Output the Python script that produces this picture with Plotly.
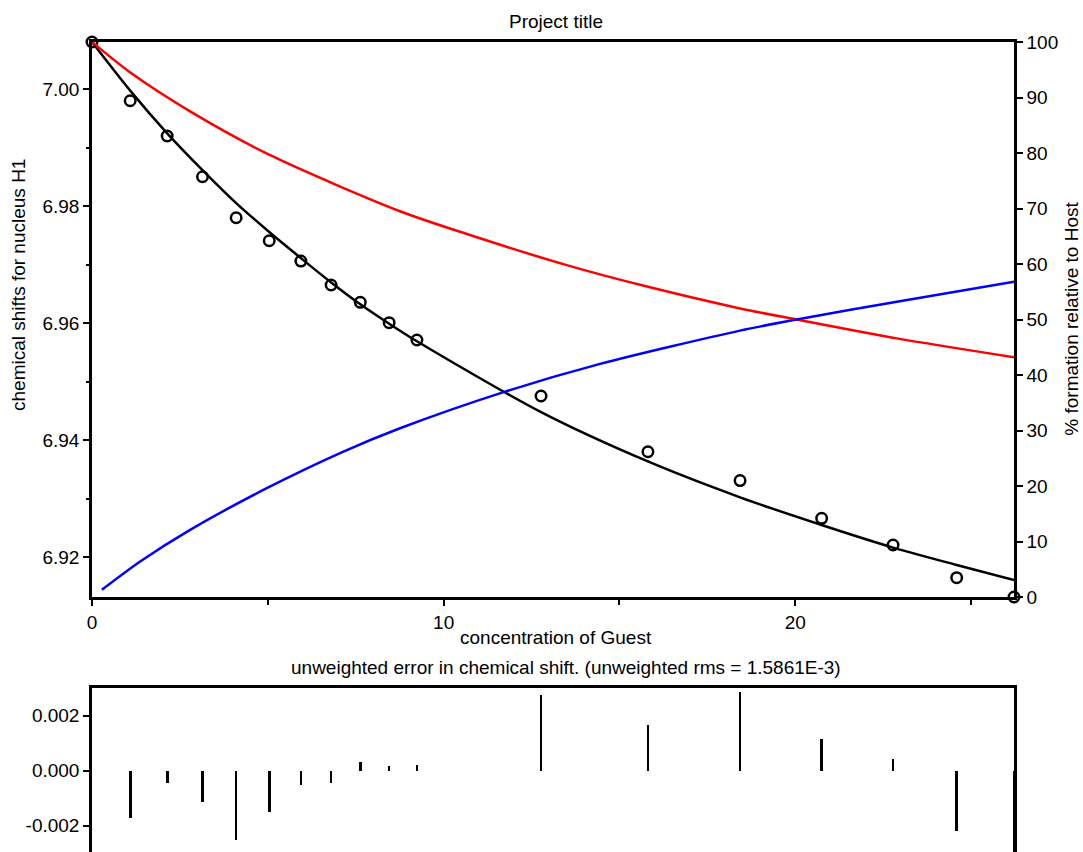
import plotly.graph_objects as go

# ---- data ----
conc_guest = [0, 1.086, 2.138, 3.142, 4.10, 5.04, 5.94, 6.80, 7.63, 8.45, 9.24,
              12.77, 15.81, 18.43, 20.75, 22.78, 24.59, 26.22]
shift_obs = [7.00807, 6.99803, 6.99200, 6.98504, 6.97803, 6.97410, 6.97063, 6.96653,
             6.96357, 6.96009, 6.95713, 6.94756, 6.93803, 6.93311, 6.92665, 6.92209,
             6.91650, 6.91320]
shift_fit = [7.00807, 6.99976, 6.99246, 6.98617, 6.98053, 6.97559, 6.97113, 6.96697,
             6.96324, 6.95992, 6.95692, 6.94481, 6.93637, 6.93024, 6.92551, 6.92165,
             6.91868, 6.91610]
residual = [0, -0.00173, -0.00046, -0.00113, -0.0025, -0.00149, -0.0005, -0.00044,
            0.00033, 0.00017, 0.00021, 0.00275, 0.00166, 0.00287, 0.00114, 0.00044,
            -0.00218, -0.0031]

host_x = [0, 1.09, 2.79, 5.07, 8.76, 10.66, 13.50, 15.87, 18.43, 20.04, 22.89, 26.22]
host_pct = [100, 94.5, 87.5, 79.6, 69.5, 65.4, 59.8, 55.8, 52.0, 50.0, 46.6, 43.2]
complex_x = [0.28, 1.37, 2.79, 4.97, 7.15, 8.76, 11.75, 14.45, 18.43, 20.04, 22.89, 26.22]
complex_pct = [1.3, 6.4, 12.1, 19.6, 26.2, 30.4, 37.0, 42.0, 48.0, 50.0, 53.2, 56.8]

x_tickvals = [0, 10, 20]
shift_tickvals = [6.92, 6.94, 6.96, 6.98, 7.00]
pct_tickvals = [0, 10, 20, 30, 40, 50, 60, 70, 80, 90, 100]
res_tickvals = [-0.002, 0.0, 0.002]
res_ticktext = ["-0.002", "0.000", "0.002"]

FONT = "Liberation Sans, Arial, sans-serif"
FS = 19

fig = go.Figure()

fig.add_trace(go.Scatter(x=host_x, y=host_pct, mode="lines", xaxis="x", yaxis="y2",
                         line=dict(color="#ff0000", width=2.5, shape="spline", smoothing=0.8),
                         hoverinfo="skip"))
fig.add_trace(go.Scatter(x=complex_x, y=complex_pct, mode="lines", xaxis="x", yaxis="y2",
                         line=dict(color="#0000ff", width=2.5, shape="spline", smoothing=0.8),
                         hoverinfo="skip"))
fig.add_trace(go.Scatter(x=conc_guest, y=shift_fit, mode="lines", xaxis="x", yaxis="y",
                         line=dict(color="black", width=2.5, shape="spline", smoothing=0.8),
                         hoverinfo="skip"))
fig.add_trace(go.Scatter(x=conc_guest, y=shift_obs, mode="markers", xaxis="x", yaxis="y",
                         marker=dict(symbol="circle-open", size=10.5, color="black",
                                     line=dict(width=2.5, color="black")),
                         cliponaxis=False))
fig.add_trace(go.Bar(x=conc_guest, y=residual, xaxis="x2", yaxis="y3", width=0.075,
                     marker=dict(color="black", line=dict(width=0))))

axis_common = dict(showline=True, linecolor="black", linewidth=2.5, showgrid=False,
                   zeroline=False, tickcolor="black", tickwidth=2, automargin=False,
                   tickfont=dict(family=FONT, size=FS, color="black"))

fig.update_layout(
    width=1083, height=852, autosize=False,
    margin=dict(l=92, r=69, t=42, b=0, pad=0),
    paper_bgcolor="white", plot_bgcolor="white",
    showlegend=False, bargap=0,
    font=dict(family=FONT, size=FS, color="black"),
    xaxis=dict(domain=[0, 1], anchor="y", range=[0, 26.22], mirror=True,
               ticks="outside", ticklen=6, tickvals=x_tickvals,
               minor=dict(ticks="outside", dtick=5, tick0=0, ticklen=5,
                          tickwidth=2, tickcolor="black"),
               **axis_common),
    yaxis=dict(domain=[0.3148, 1], anchor="x", range=[6.91320, 7.00807],
               ticks="outside", ticklen=6, tickvals=shift_tickvals, tickformat=".2f",
               minor=dict(ticks="outside", dtick=0.01, tick0=6.92, ticklen=3,
                          tickwidth=2, tickcolor="black"),
               **axis_common),
    yaxis2=dict(overlaying="y", side="right", anchor="x", range=[0, 100],
                ticks="outside", ticklen=6, tickvals=pct_tickvals,
                **axis_common),
    xaxis2=dict(domain=[0, 1], anchor="y3", range=[0, 26.22], side="top",
                showticklabels=False, ticks="",
                **axis_common),
    yaxis3=dict(domain=[0, 0.2025], anchor="x2", range=[-0.002953, 0.003007],
                mirror=True, ticks="outside", ticklen=6,
                tickvals=res_tickvals, ticktext=res_ticktext,
                **axis_common),
)

def ann(text, x, y, angle=0):
    fig.add_annotation(text=text, x=x, y=y, xref="paper", yref="paper",
                       xanchor="center", yanchor="middle", showarrow=False,
                       textangle=angle, font=dict(family=FONT, size=FS, color="black"))

ann("Project title", 0.5033, 1.0259)
ann("concentration of Guest", 0.503, 0.2642)
ann("unweighted error in chemical shift. (unweighted rms = 1.5861E-3)", 0.5141, 0.2272)
ann("chemical shifts for nucleus H1", -0.0803, 0.70, -90)
ann("% formation relative to Host", 1.0623, 0.659, -90)

fig.write_html("out.html", config={"displayModeBar": False})

with open("out.html", "r", encoding="utf-8") as f:
    html = f.read()
html = html.replace("</head>", "<style>html,body{margin:0;padding:0;overflow:hidden;}</style></head>", 1)
with open("out.html", "w", encoding="utf-8") as f:
    f.write(html)
